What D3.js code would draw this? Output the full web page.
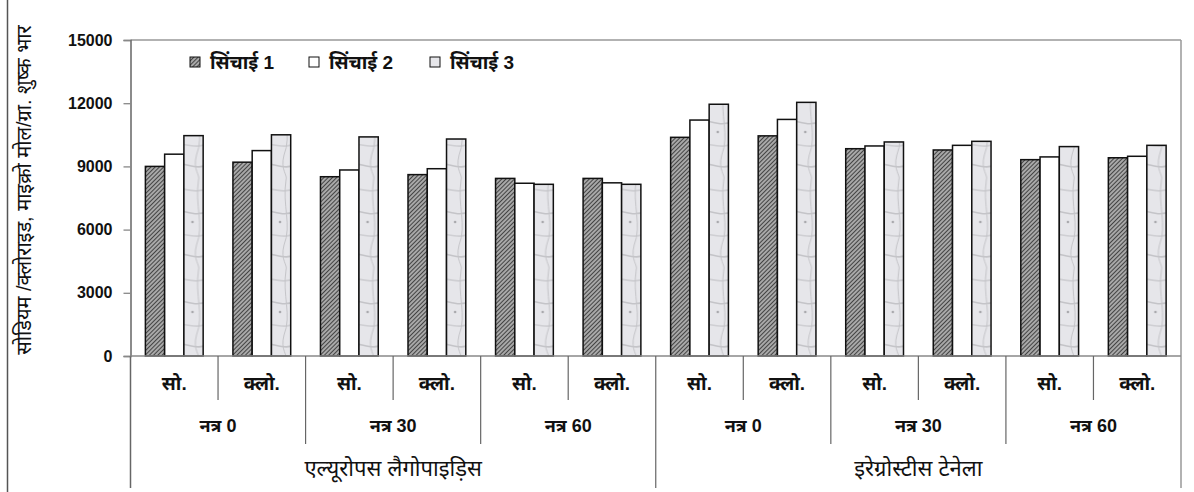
<!DOCTYPE html>
<html>
<head>
<meta charset="utf-8">
<script src="https://cdn.jsdelivr.net/npm/d3@7"></script>
<style>
  html, body { margin: 0; padding: 0; background: #fff; }
  svg { display: block; font-family: "Liberation Sans", Arial, "Noto Sans", sans-serif; }
</style>
</head>
<body>
<svg id="chart" width="1194" height="492"></svg>
<script>
// ---------- data ----------
const species = ["एल्यूरोपस लैगोपाइड़िस", "इरेग्रोस्टीस टेनेला"];
const nitrogen = ["नत्र 0", "नत्र 30", "नत्र 60"];
const salts = ["सो.", "क्लो."];
const seriesNames = ["सिंचाई 1", "सिंचाई 2", "सिंचाई 3"];
const irrigation1 = [9000, 9200, 8510, 8610, 8430, 8430, 10380, 10450, 9840, 9780, 9320, 9410];
const irrigation2 = [9580, 9750, 8830, 8890, 8200, 8220, 11200, 11230, 9970, 10000, 9450, 9480];
const irrigation3 = [10460, 10500, 10400, 10300, 8150, 8150, 11950, 12040, 10160, 10190, 9940, 10000];
const yTicks = [0, 3000, 6000, 9000, 12000, 15000];
const yTitle = "सोडियम /क्लोराइड, माइक्रो मोल/ग्रा. शुष्क भार";

(function () {
// ---------- build leaf categories ----------
const leaves = [];
species.forEach((sp, si) => nitrogen.forEach((n, ni) => salts.forEach((s, ki) => {
  leaves.push({ key: si + "-" + ni + "-" + ki, sp: si, n: ni, s: s });
})));
const seriesVals = [irrigation1, irrigation2, irrigation3];

const svg = d3.select("#chart");
const pL = 130.5, pR = 1181, pT = 40, pB = 356;

const x0 = d3.scaleBand().domain(leaves.map(d => d.key)).range([pL, pR]).padding(0);
const gw = x0.bandwidth();
const x1 = d3.scaleBand().domain([0, 1, 2]).range([gw * 0.17, gw * 0.83]).padding(0);
const y = d3.scaleLinear().domain([0, 15000]).range([pB, pT]);

// ---------- patterns ----------
const defs = svg.append("defs");
const hatch = defs.append("pattern").attr("id", "hatch").attr("patternUnits", "userSpaceOnUse")
  .attr("width", 3).attr("height", 3).attr("patternTransform", "rotate(45)");
hatch.append("rect").attr("width", 3).attr("height", 3).attr("fill", "#a8a8a8");
hatch.append("line").attr("x1", 0).attr("y1", 0).attr("x2", 0).attr("y2", 3)
  .attr("stroke", "#2a2a2a").attr("stroke-width", 1.6);

const marble = defs.append("pattern").attr("id", "marble").attr("patternUnits", "userSpaceOnUse")
  .attr("width", 40).attr("height", 90);
marble.append("rect").attr("width", 40).attr("height", 90).attr("fill", "#e6e6ea");
const mp = [
  "M0,10 C10,4 20,16 40,8",
  "M0,32 C12,26 22,40 40,30",
  "M0,55 C8,50 26,62 40,52",
  "M0,75 C14,70 24,82 40,74",
  "M5,0 C8,20 2,40 10,60 C14,75 6,85 8,90",
  "M28,0 C24,25 34,45 26,65 C22,80 30,85 28,90"
];
mp.forEach((d, i) => marble.append("path").attr("d", d).attr("fill", "none")
  .attr("stroke", i % 2 ? "#c4c4c8" : "#cfcfd3").attr("stroke-width", i < 4 ? 1.6 : 1));
marble.append("circle").attr("cx", 22).attr("cy", 42).attr("r", 1.3).attr("fill", "#a9a9ad");

const fills = ["url(#hatch)", "#ffffff", "url(#marble)"];

// ---------- outer frame ----------
svg.append("line").attr("x1", 7.5).attr("x2", 7.5).attr("y1", 0).attr("y2", 492)
  .attr("stroke", "#555").attr("stroke-width", 1.5);

// ---------- plot border ----------
svg.append("line").attr("x1", pL).attr("x2", pR).attr("y1", pT).attr("y2", pT)
  .attr("stroke", "#999").attr("stroke-width", 1.5);
svg.append("line").attr("x1", pR).attr("x2", pR).attr("y1", pT).attr("y2", 488)
  .attr("stroke", "#999").attr("stroke-width", 1.5);

// ---------- y axis ----------
const yAxis = d3.axisLeft(y).tickValues(yTicks).tickFormat(d3.format("d")).tickSize(7).tickPadding(11);
const gy = svg.append("g").attr("transform", `translate(${pL},0)`).call(yAxis);
gy.select(".domain").attr("stroke", "#666").attr("stroke-width", 1.5);
gy.selectAll(".tick line").attr("stroke", "#888").attr("stroke-width", 1.3);
gy.selectAll(".tick text").attr("font-size", 16).attr("font-weight", "bold").attr("fill", "#111");
svg.append("line").attr("x1", pL).attr("x2", pL).attr("y1", pB).attr("y2", 488)
  .attr("stroke", "#666").attr("stroke-width", 1.5);

svg.append("text").attr("transform", `translate(24,190) rotate(-90)`)
  .attr("text-anchor", "middle").attr("dominant-baseline", "central")
  .attr("font-size", 20).attr("fill", "#111").text(yTitle);

// ---------- bars ----------
const groups = svg.append("g").selectAll("g").data(leaves).join("g")
  .attr("transform", d => `translate(${x0(d.key)},0)`);
groups.selectAll("rect").data((d, i) => seriesVals.map((arr, k) => ({ k, v: arr[i] })))
  .join("rect")
  .attr("x", d => x1(d.k)).attr("width", x1.bandwidth())
  .attr("y", d => y(d.v)).attr("height", d => y(0) - y(d.v))
  .attr("fill", d => fills[d.k]).attr("stroke", "#111").attr("stroke-width", 1.5);

// ---------- x axis baseline ----------
svg.append("line").attr("x1", pL).attr("x2", pR).attr("y1", pB).attr("y2", pB)
  .attr("stroke", "#888").attr("stroke-width", 1.6);

// ---------- multi-level category axis ----------
const cat = svg.append("g");
leaves.forEach((d, i) => {
  const xs = x0(d.key);
  if (i > 0) {
    let y2 = 400;
    if (d.n !== leaves[i - 1].n) y2 = 444;
    if (d.sp !== leaves[i - 1].sp) y2 = 488;
    cat.append("line").attr("x1", xs).attr("x2", xs).attr("y1", pB).attr("y2", y2)
      .attr("stroke", "#666").attr("stroke-width", 1.2);
  }
  cat.append("text").attr("x", xs + gw / 2).attr("y", 383).attr("text-anchor", "middle")
    .attr("dominant-baseline", "central").attr("font-size", 19).attr("font-weight", "bold")
    .attr("fill", "#111").text(d.s);
});
species.forEach((sp, si) => {
  nitrogen.forEach((n, ni) => {
    const ks = leaves.filter(d => d.sp === si && d.n === ni);
    const xa = x0(ks[0].key), xb = x0(ks[ks.length - 1].key) + gw;
    cat.append("text").attr("x", (xa + xb) / 2).attr("y", 426).attr("text-anchor", "middle")
      .attr("dominant-baseline", "central").attr("font-size", 18).attr("font-weight", "bold")
      .attr("fill", "#111").text(n);
  });
  const ks = leaves.filter(d => d.sp === si);
  const xa = x0(ks[0].key), xb = x0(ks[ks.length - 1].key) + gw;
  cat.append("text").attr("x", (xa + xb) / 2).attr("y", 468).attr("text-anchor", "middle")
    .attr("dominant-baseline", "central").attr("font-size", 22)
    .attr("fill", "#111").text(sp);
});

// ---------- legend ----------
const legX = [190, 309, 430];
const leg = svg.append("g");
seriesNames.forEach((name, k) => {
  leg.append("rect").attr("x", legX[k]).attr("y", 57).attr("width", 10).attr("height", 10)
    .attr("fill", fills[k]).attr("stroke", "#111").attr("stroke-width", 1);
  leg.append("text").attr("x", legX[k] + 20).attr("y", 62).attr("dominant-baseline", "central")
    .attr("font-size", 19).attr("font-weight", "bold").attr("fill", "#111").text(name);
});
})();
</script>
</body>
</html>
